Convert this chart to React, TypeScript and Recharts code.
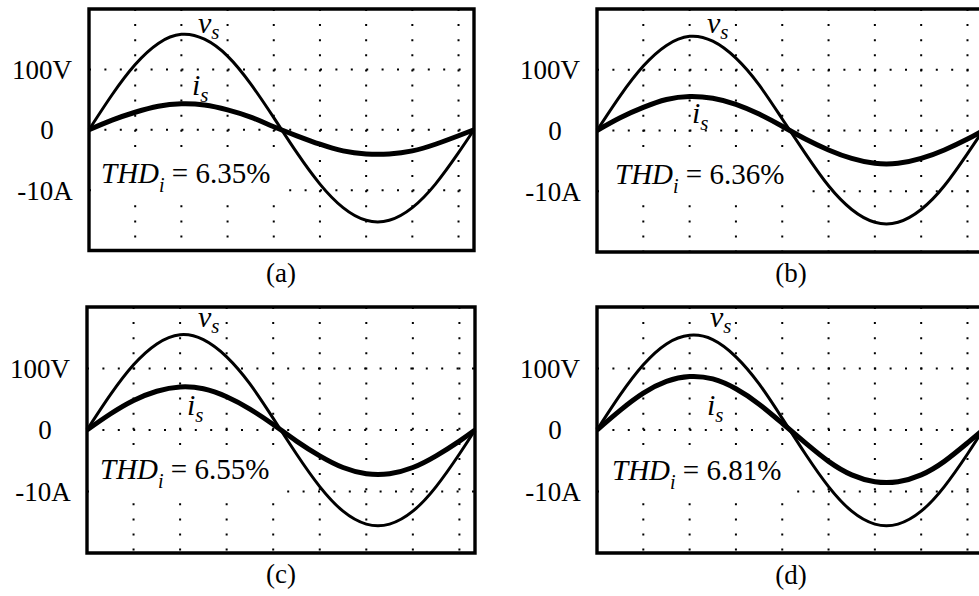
import { CartesianGrid, Line, LineChart, ReferenceArea, XAxis, YAxis } from "recharts";

// time axis: one 60 Hz cycle, 2 ms per division
const TIME_MS = [0, 1, 2, 3, 4, 5, 6, 7, 8, 9, 10, 11, 12, 13, 14, 15, 16, 16.67];
const GRID_MS = [2, 4, 6, 8, 10, 12, 14, 16];
const V_TICKS = [100, 0, -100];
const V_TICK_LABELS = ["100V", "0", "-10A"];

// source voltage (V)
const VS_A = [0, 58, 108, 143, 158, 150, 122, 76, 20, -38, -90, -129, -150, -150, -129, -90, -38, 0];
const VS_B = [0, 57, 106, 140, 155, 147, 119, 75, 19, -38, -91, -130, -151, -151, -130, -91, -38, 0];
const VS_C = [0, 57, 106, 140, 155, 147, 119, 75, 19, -39, -92, -132, -153, -153, -132, -92, -39, 0];
const VS_D = [0, 57, 106, 140, 154, 147, 119, 75, 19, -39, -92, -132, -153, -153, -132, -92, -39, 0];

// source current (A)
const IS_A = [0, 1.6, 2.9, 3.9, 4.3, 4.1, 3.3, 2.1, 0.5, -1.0, -2.4, -3.5, -4.0, -4.0, -3.5, -2.4, -1.0, 0];
const IS_B = [0, 2.1, 3.8, 5.1, 5.6, 5.3, 4.3, 2.7, 0.7, -1.4, -3.2, -4.6, -5.4, -5.4, -4.6, -3.2, -1.4, 0];
const IS_C = [0, 2.6, 4.8, 6.3, 7.0, 6.7, 5.4, 3.4, 0.9, -1.8, -4.2, -6.1, -7.1, -7.1, -6.1, -4.2, -1.8, 0];
const IS_D = [0, 3.2, 6.0, 7.9, 8.7, 8.3, 6.7, 4.2, 1.1, -2.1, -5.1, -7.3, -8.4, -8.4, -7.3, -5.1, -2.1, 0];

const THD = ["6.35%", "6.36%", "6.55%", "6.81%"];
const CAPTIONS = ["(a)", "(b)", "(c)", "(d)"];

const SERIF = "Liberation Serif";
const ML = 90;
const MT = 10;
const MR = 20;
const MB = 10;
const TICK_CENTER = [47, 42, 44];

// plot frame + annotation positions (page px)
const LAYOUT = [
  { left: 89, top: 8.5, w: 385, h: 241.5, vs: [198, 33], is: [192, 95], thd: [101, 183], box: [91, 151, 279, 201], cap: [281, 282] },
  { left: 597.3, top: 9.3, w: 386, h: 243, vs: [707, 33], is: [692, 123], thd: [615, 184], box: [600, 153, 800, 203], cap: [791, 282] },
  { left: 87, top: 306.7, w: 388, h: 246, vs: [198, 326.5], is: [187, 415], thd: [100, 479], box: [89, 451, 279, 502], cap: [281, 583] },
  { left: 597.3, top: 306.7, w: 386, h: 246, vs: [710, 326.5], is: [707, 414.5], thd: [612, 480], box: [600, 455, 788, 503], cap: [791, 584] },
];

const SERIES = [
  [VS_A, IS_A],
  [VS_B, IS_B],
  [VS_C, IS_C],
  [VS_D, IS_D],
];

function renderTick(props: any) {
  const k = V_TICKS.indexOf(props.payload.value);
  return (
    <text x={ML - TICK_CENTER[k]} y={props.y} dy="0.35em" textAnchor="middle" fontSize={27} fontFamily={SERIF} fill="#000">
      {V_TICK_LABELS[k]}
    </text>
  );
}

function Panel({ idx }: { idx: number }) {
  const L = LAYOUT[idx];
  const [vs, is] = SERIES[idx];
  const data = TIME_MS.map((t, k) => ({ t, v: vs[k], i: is[k] }));
  return (
    <div style={{ position: "absolute", left: L.left - ML, top: L.top - MT }}>
      <LineChart width={L.w + ML + MR} height={L.h + MT + MB} data={data} margin={{ top: MT, right: MR, bottom: MB, left: 0 }}>
        <XAxis dataKey="t" type="number" domain={[0, 16.67]} ticks={GRID_MS} hide />
        <YAxis
          yAxisId="v"
          domain={[-200, 200]}
          ticks={V_TICKS}
          width={ML}
          axisLine={false}
          tickLine={false}
          tick={renderTick}
        />
        <YAxis yAxisId="i" domain={[-20, 20]} hide />
        <CartesianGrid yAxisId="v" vertical={false} stroke="#000" strokeWidth={2} strokeDasharray="2 13.4" />
        <CartesianGrid yAxisId="v" horizontal={false} stroke="#000" strokeWidth={2} strokeDasharray="2 13.1" />
        <Line yAxisId="v" dataKey="v" type="natural" stroke="#000" strokeWidth={3} dot={false} isAnimationActive={false} />
        <Line yAxisId="i" dataKey="i" type="natural" stroke="#000" strokeWidth={5} dot={false} isAnimationActive={false} />
        <ReferenceArea yAxisId="v" x1={0} x2={16.67} y1={-200} y2={200} fill="none" stroke="#000" strokeWidth={3.4} ifOverflow="visible" />
      </LineChart>
    </div>
  );
}

export default function App() {
  return (
    <div style={{ position: "fixed", left: 0, top: 0, width: 979, height: 596, overflow: "hidden", background: "#fff" }}>
      {LAYOUT.map((_, k) => (
        <Panel key={k} idx={k} />
      ))}
      <svg width={979} height={596} style={{ position: "absolute", left: 0, top: 0, pointerEvents: "none" }}>
        {LAYOUT.map((L, k) => (
          <g key={k}>
            <rect x={L.box[0]} y={L.box[1]} width={L.box[2] - L.box[0]} height={L.box[3] - L.box[1]} fill="#fff" />
            <text x={L.vs[0]} y={L.vs[1]} fontSize={30} fontStyle="italic" fontFamily={SERIF} fill="#000">
              v<tspan fontSize={21} dy={6}>s</tspan>
            </text>
            <text x={L.is[0]} y={L.is[1]} fontSize={30} fontStyle="italic" fontFamily={SERIF} fill="#000">
              i<tspan fontSize={21} dy={7}>s</tspan>
            </text>
            <text x={L.thd[0]} y={L.thd[1]} fontSize={29} fontFamily={SERIF} fill="#000">
              <tspan fontStyle="italic">THD</tspan>
              <tspan fontStyle="italic" fontSize={20} dy={8.5}>i</tspan>
              <tspan dy={-8.5}>{" = " + THD[k]}</tspan>
            </text>
            <text x={L.cap[0]} y={L.cap[1]} fontSize={27} textAnchor="middle" fontFamily={SERIF} fill="#000">
              {CAPTIONS[k]}
            </text>
          </g>
        ))}
      </svg>
    </div>
  );
}
